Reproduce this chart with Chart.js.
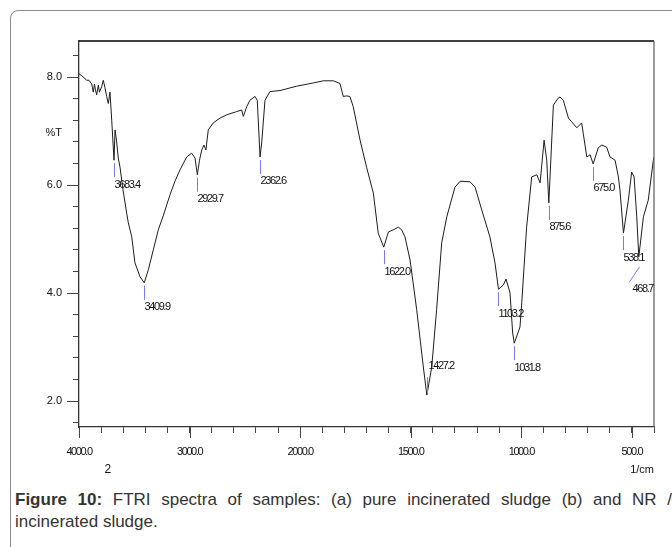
<!DOCTYPE html>
<html>
<head>
<meta charset="utf-8">
<script src="https://cdn.jsdelivr.net/npm/chart.js@4.4.1/dist/chart.umd.min.js"></script>
<style>
  body { margin: 0; background: #fff; overflow: hidden; width: 672px; height: 547px; position: relative; font-family: "Liberation Sans", Arial, sans-serif; }
  .frame { position: absolute; left: 10px; top: 10px; width: 720px; height: 600px; border: 1.3px solid #8c8c8c; border-radius: 8px; box-sizing: border-box; }
  .plot { position: absolute; left: 0; top: 0; }
  .caption { position: absolute; left: 15px; top: 489px; width: 657px; font-size: 17px; line-height: 22px; color: #333; text-align: justify; }
</style>
</head>
<body>
<div class="frame"></div>
<canvas id="ftir" class="plot" width="672" height="480"></canvas>
<div class="caption"><b>Figure 10:</b> FTRI spectra of samples: (a) pure incinerated sludge (b) and NR / incinerated sludge.</div>
<script>
// spectrum (wavenumber in 1/cm, %T as labelled on the axis)
const wavenumbers = [4000, 3973, 3930, 3910, 3885, 3878, 3871, 3860, 3851, 3840,
  3825, 3815, 3795, 3780, 3765, 3750, 3735, 3720, 3704, 3683.4,
  3674, 3661, 3645, 3629, 3602, 3569, 3554, 3523, 3494, 3448,
  3409.9, 3373, 3328, 3283, 3238, 3177, 3132, 3087, 3026, 2981,
  2951, 2929.7, 2910, 2890, 2870, 2852, 2831, 2786, 2725, 2664,
  2574, 2529, 2514, 2483, 2454, 2408, 2388, 2362.6, 2348, 2318,
  2273, 2182, 2031, 1941, 1895, 1850, 1820, 1805, 1790, 1775,
  1760, 1729, 1699, 1669, 1647, 1622.0, 1601, 1579, 1556, 1541,
  1526, 1503, 1473, 1443, 1427.2, 1405, 1383, 1360, 1337, 1300,
  1277, 1232, 1209, 1179, 1142, 1119, 1103.2, 1081, 1069, 1051,
  1039, 1031.8, 1006, 998, 976, 953, 930, 915, 897, 885,
  875.6, 855, 833, 825, 810, 787, 772, 749, 727, 720,
  704, 689, 675.0, 652, 636, 614, 599, 576, 561, 554,
  538.1, 516, 501, 490, 478, 468.7, 448, 426, 403, 400];
const transmittance = [8.06, 8.02, 7.94, 7.94, 7.87, 7.80, 7.72, 7.87, 7.76, 7.67,
  7.85, 7.72, 7.82, 7.94, 7.80, 7.64, 7.51, 7.72, 7.20, 6.46,
  7.02, 6.83, 6.50, 6.33, 5.91, 5.48, 5.30, 5.04, 4.56, 4.30,
  4.19, 4.43, 4.80, 5.17, 5.43, 5.82, 6.07, 6.28, 6.52, 6.59,
  6.50, 6.19, 6.46, 6.65, 6.74, 6.65, 7.02, 7.15, 7.24, 7.30,
  7.36, 7.39, 7.27, 7.45, 7.57, 7.64, 7.57, 6.52, 6.78, 7.57,
  7.73, 7.75, 7.83, 7.89, 7.93, 7.93, 7.88, 7.64, 7.65, 7.64,
  7.45, 6.83, 6.32, 5.85, 5.11, 4.85, 5.13, 5.17, 5.22, 5.17,
  5.04, 4.61, 3.69, 2.63, 2.11, 2.63, 3.69, 4.93, 5.41, 5.96,
  6.07, 6.06, 5.96, 5.54, 5.04, 4.56, 4.07, 4.15, 4.26, 4.00,
  3.26, 3.07, 3.37, 3.82, 5.22, 6.15, 6.19, 6.04, 6.83, 6.46,
  5.67, 7.48, 7.61, 7.63, 7.57, 7.24, 7.17, 7.06, 7.15, 6.96,
  6.52, 6.56, 6.39, 6.69, 6.74, 6.70, 6.52, 6.46, 6.15, 5.91,
  5.11, 5.72, 6.24, 6.15, 5.41, 4.67, 5.41, 5.72, 6.46, 6.52];

// picked peaks
const peakWn = [3683.4, 3409.9, 2929.7, 2362.6, 1622.0, 1427.2, 1103.2, 1031.8, 875.6, 675.0, 538.1, 468.7];
const peakLabels = ["3683.4", "3409.9", "2929.7", "2362.6", "1622.0", "1427.2", "1103.2", "1031.8", "875.6", "675.0", "538.1", "468.7"];
const peakPlacement = { "1427.2": "above", "468.7": "diagonal" };

// axis ticks
const xTickWn = [4000, 3800, 3600, 3400, 3200, 3000, 2800, 2600, 2400, 2200, 2000,
  1900, 1800, 1700, 1600, 1500, 1400, 1300, 1200, 1100, 1000, 900, 800, 700, 600, 500, 400];
const xLabelWn = [4000, 3000, 2000, 1500, 1000, 500];
const yTickVals = [1.6, 2.0, 2.4, 2.8, 3.2, 3.6, 4.0, 4.4, 4.8, 5.2, 5.6, 6.0, 6.4, 6.8, 7.2, 7.6, 8.0, 8.4];
const yLabelVals = [2.0, 4.0, 6.0, 8.0];

// the instrument plots 4000-2000 at half the scale of 2000-400
function toT(w) {
  return w >= 2000 ? 4000 - w : 2000 + 2 * (2000 - w);
}
function fromT(t) {
  return t <= 2000 ? 4000 - t : 2000 - (t - 2000) / 2;
}

const FONT = '"Liberation Sans", Arial, sans-serif';
Chart.defaults.font.family = FONT;
Chart.defaults.color = "#111";

const ftirMarks = {
  id: "ftirMarks",
  beforeDraw(chart) {
    chart.ctx.letterSpacing = "0px";
  },
  afterDatasetsDraw(chart) {
    const { ctx, chartArea: a, scales } = chart;
    const x = scales.x, y = scales.y;
    ctx.save();
    // frame
    ctx.lineWidth = 1.3;
    ctx.strokeStyle = "#000";
    ctx.beginPath();
    ctx.moveTo(a.left, a.top);
    ctx.lineTo(a.right, a.top);
    ctx.stroke();
    ctx.strokeStyle = "#666";
    ctx.beginPath();
    ctx.moveTo(a.right, a.top);
    ctx.lineTo(a.right, a.bottom);
    ctx.stroke();

    // longer ticks at labelled values
    ctx.lineWidth = 1;
    ctx.strokeStyle = "#444";
    ctx.beginPath();
    xLabelWn.forEach((w) => {
      const px = Math.round(x.getPixelForValue(toT(w))) + 0.5;
      ctx.moveTo(px, a.bottom);
      ctx.lineTo(px, a.bottom + 11);
    });
    yLabelVals.forEach((v) => {
      const py = Math.round(y.getPixelForValue(v)) + 0.5;
      ctx.moveTo(a.left - 12, py);
      ctx.lineTo(a.left, py);
    });
    ctx.stroke();

    // peak markers
    ctx.font = "11px " + FONT;
    ctx.letterSpacing = "-1.4px";
    ctx.fillStyle = "#111";
    ctx.textBaseline = "top";
    ctx.textAlign = "left";
    ctx.strokeStyle = "#7878ff";
    peakWn.forEach((w, i) => {
      const k = wavenumbers.indexOf(w);
      const px = Math.round(x.getPixelForValue(toT(w))) + 0.5;
      const py = y.getPixelForValue(transmittance[k]);
      const place = peakPlacement[peakLabels[i]] || "below";
      ctx.beginPath();
      if (place === "above") {
        ctx.moveTo(px, py - 2);
        ctx.lineTo(px, py - 18);
        ctx.stroke();
        ctx.fillText(peakLabels[i], px + 1, py - 35);
      } else if (place === "diagonal") {
        ctx.moveTo(px, py + 10);
        ctx.lineTo(px - 10, py + 25);
        ctx.stroke();
        ctx.fillText(peakLabels[i], px - 7, py + 27);
      } else {
        ctx.moveTo(px, py + 3);
        ctx.lineTo(px, py + 17);
        ctx.stroke();
        ctx.fillText(peakLabels[i], px, py + 19);
      }
    });
    ctx.restore();
    // x tick labels (z: 1) are drawn right after this, squeezed like the original
    ctx.letterSpacing = "-1.4px";
  },
  afterDraw(chart) {
    const { ctx, chartArea: a, scales } = chart;
    ctx.letterSpacing = "0px";
    ctx.save();
    ctx.font = "11px " + FONT;
    ctx.fillStyle = "#111";
    ctx.textAlign = "right";
    ctx.textBaseline = "middle";
    ctx.fillText("%T", a.left - 17, scales.y.getPixelForValue(6.96));
    ctx.textAlign = "center";
    ctx.font = "12px " + FONT;
    ctx.fillText("2", scales.x.getPixelForValue(toT(3740)), 470);
    ctx.restore();
  },
};

const points = wavenumbers.map((w, i) => ({ x: toT(w), y: transmittance[i] }));

new Chart(document.getElementById("ftir"), {
  type: "line",
  data: {
    datasets: [
      {
        data: points,
        borderColor: "#1c1c1c",
        borderWidth: 1,
        pointRadius: 0,
        tension: 0,
        fill: false,
      },
    ],
  },
  options: {
    responsive: false,
    animation: false,
    events: [],
    layout: { padding: { left: 0, top: 41, right: 18, bottom: 0 } },
    plugins: { legend: { display: false }, tooltip: { enabled: false } },
    scales: {
      x: {
        type: "linear",
        min: 0,
        max: 5200,
        afterBuildTicks: (s) => {
          s.ticks = xTickWn.map((w) => ({ value: toT(w) }));
        },
        afterFit: (s) => {
          s.height = 53;
        },
        ticks: {
          autoSkip: false,
          maxRotation: 0,
          padding: 12,
          z: 1,
          font: { size: 11 },
          callback: (v) => {
            const w = Math.round(fromT(v));
            return xLabelWn.includes(w) ? w.toFixed(1) : "";
          },
        },
        grid: { drawOnChartArea: false, tickLength: 6, tickColor: "#444" },
        border: { color: "#333", width: 1.3 },
        title: {
          display: true,
          text: "1/cm",
          align: "end",
          padding: { top: 0, bottom: 3 },
          font: { size: 11 },
        },
      },
      y: {
        min: 1.519,
        max: 8.667,
        afterBuildTicks: (s) => {
          s.ticks = yTickVals.map((v) => ({ value: v }));
        },
        afterFit: (s) => {
          s.width = 79;
        },
        ticks: {
          autoSkip: false,
          padding: 11,
          font: { size: 11 },
          callback: (v) => (yLabelVals.includes(Math.round(v * 10) / 10) ? v.toFixed(1) : ""),
        },
        grid: { drawOnChartArea: false, tickLength: 6, tickColor: "#444" },
        border: { color: "#333", width: 1.3 },
      },
    },
  },
  plugins: [ftirMarks],
});
</script>
</body>
</html>
